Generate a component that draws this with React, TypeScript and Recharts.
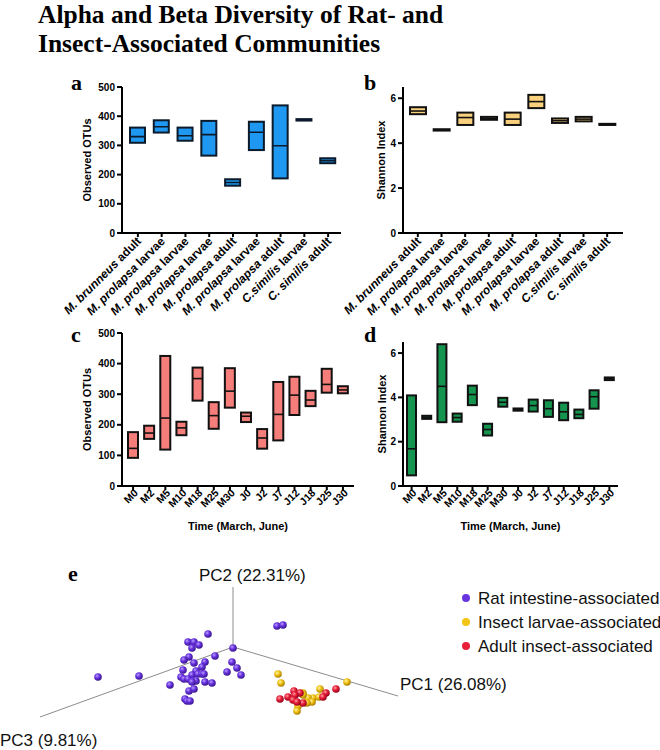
import React from 'react';
import {
  BarChart,
  Bar,
  XAxis,
  YAxis,
  Label,
  ScatterChart,
  Scatter,
  ReferenceLine,
} from 'recharts';

const SANS = '"Liberation Sans", Arial, Helvetica, sans-serif';
const SERIF = '"Liberation Serif", "Times New Roman", serif';

// panels a, b: host groups
const hostGroups = [
  'M. brunneus adult',
  'M. prolapsa larvae',
  'M. prolapsa larvae',
  'M. prolapsa larvae',
  'M. prolapsa adult',
  'M. prolapsa larvae',
  'M. prolapsa adult',
  'C.similis larvae',
  'C. similis adult',
];
const hostOtuMin = [309, 344, 316, 265, 162, 284, 187, 385, 239];
const hostOtuMax = [361, 386, 361, 384, 184, 381, 437, 390, 256];
const hostOtuMedian = [330, 364, 333, 337, 173, 345, 299, 387, 248];

const hostShannonMin = [5.29, 4.56, 4.81, 5.04, 4.81, 5.56, 4.9, 4.97, 4.81];
const hostShannonMax = [5.6, 4.62, 5.36, 5.17, 5.36, 6.15, 5.1, 5.17, 4.86];
const hostShannonMedian = [5.43, 4.59, 5.14, 5.1, 5.07, 5.85, 5.0, 5.07, 4.83];

// panels c, d: sampling time points
const timePoints = ['M0', 'M2', 'M5', 'M10', 'M18', 'M25', 'M30', 'J0', 'J2', 'J7', 'J12', 'J18', 'J25', 'J30'];
const timeOtuMin = [92, 154, 119, 166, 279, 187, 256, 209, 122, 149, 232, 261, 305, 303];
const timeOtuMax = [176, 197, 425, 210, 387, 274, 385, 240, 186, 340, 357, 311, 383, 326];
const timeOtuMedian = [123, 173, 222, 190, 351, 230, 310, 228, 157, 234, 297, 281, 332, 314];

const timeShannonMin = [0.48, 3.03, 2.88, 2.9, 3.65, 2.28, 3.58, 3.4, 3.36, 3.12, 2.97, 3.06, 3.49, 4.78];
const timeShannonMax = [4.09, 3.17, 6.4, 3.27, 4.53, 2.81, 3.98, 3.5, 3.9, 3.87, 3.76, 3.45, 4.32, 4.9];
const timeShannonMedian = [1.68, 3.1, 4.5, 3.09, 4.13, 2.55, 3.78, 3.45, 3.63, 3.49, 3.35, 3.23, 4.03, 4.84];

// panel e: PCoA points, projected (PC1/PC2/PC3 view)
const ratPoints = [
  [-2.5, 1.3], [-4.5, 0.5], [-3.9, 0.5], [-3.4, 0.2], [-4.1, -0.1], [0.0, -0.1],
  [-4.4, -1.0], [-4.9, -1.3], [-1.8, -0.9], [-3.9, -1.6], [-2.8, -1.5], [-0.1, -1.5],
  [-3.1, -2.0], [0.4, -2.1], [-5.0, -2.3], [-3.7, -2.4], [-0.6, -2.5], [0.8, -2.8],
  [-4.1, -2.8], [-3.5, -2.7], [-3.1, -2.7], [-2.9, -2.7], [-5.2, -3.0], [-4.9, -3.2],
  [-4.5, -3.2], [-4.0, -3.4], [-3.7, -3.4], [-4.1, -3.5], [-2.8, -3.5], [-2.1, -3.6],
  [-6.3, -3.8], [-4.4, -4.4], [-3.9, -4.2], [-4.8, -5.2], [-4.6, -5.4], [-4.3, -5.4],
  [-13.5, -3.0], [-9.4, -2.9], [4.4, 2.1], [5.0, 2.2],
];
const larvaePoints = [
  [4.5, -2.7], [4.8, -3.6], [11.4, -3.5], [8.7, -4.2], [7.0, -4.6], [8.0, -5.1],
  [7.5, -5.1], [8.6, -5.0], [7.9, -5.5], [7.4, -5.6], [6.5, -5.9], [6.4, -6.4], [7.0, -4.8],
];
const adultPoints = [
  [6.1, -4.4], [6.7, -4.6], [6.2, -4.8], [5.5, -5.0], [6.0, -5.3], [4.7, -5.2],
  [10.3, -4.2], [9.3, -4.6], [9.0, -5.0], [7.0, -5.6], [6.4, -5.5],
];
const pcAxisEnds = { pc1: [16.5, -4.9], pc2: [0, 6.0], pc3: [-19.3, -7.0] };

type BoxRow = { idx: number; lo: number; hi: number; med: number };

const toRows = (min: number[], max: number[], med: number[]): BoxRow[] =>
  min.map((lo, i) => ({ idx: i, lo, hi: max[i], med: med[i] }));

function boxShape(fill: string, stroke: string) {
  return (props: any) => {
    const { x, y, width, height, payload } = props;
    const top = Math.min(y, y + height);
    const h = Math.max(Math.abs(height), 1);
    const span = payload.hi - payload.lo;
    const my = span > 0 ? top + (h * (payload.hi - payload.med)) / span : top + h / 2;
    return (
      <g>
        <rect x={x} y={top} width={width} height={h} fill={fill} stroke={stroke} strokeWidth={2} />
        <line x1={x} x2={x + width} y1={my} y2={my} stroke={stroke} strokeWidth={1.6} />
      </g>
    );
  };
}

function speciesTick(props: any) {
  const { x, y, payload } = props;
  const text = hostGroups[payload.value] || '';
  const cut = text.lastIndexOf(' ');
  return (
    <g transform={`translate(${x + 1},${y}) rotate(-45)`}>
      <text textAnchor="end" dy="0.35em" fontSize={12} fontWeight="bold" fontFamily={SANS} fill="#000">
        <tspan fontStyle="italic">{text.slice(0, cut)}</tspan>
        {text.slice(cut)}
      </text>
    </g>
  );
}

function timeTick(props: any) {
  const { x, y, payload } = props;
  return (
    <g transform={`translate(${x + 3},${y - 1}) rotate(-45)`}>
      <text textAnchor="end" dy="0.35em" fontSize={10.5} fontWeight="bold" fontFamily={SANS} fill="#000">
        {timePoints[payload.value]}
      </text>
    </g>
  );
}

const yTitle = (text: string, x: number) => (props: any) => {
  const vb = props.viewBox || { y: 0, height: 0 };
  const cy = vb.y + vb.height / 2;
  return (
    <text
      x={x}
      y={cy}
      transform={`rotate(-90 ${x} ${cy})`}
      textAnchor="middle"
      dominantBaseline="central"
      fontSize={11}
      fontWeight="bold"
      fontFamily={SANS}
      fill="#000"
    >
      {text}
    </text>
  );
};

const xTitle = (text: string) => (props: any) => {
  const vb = props.viewBox || { x: 0, y: 0, width: 0 };
  return (
    <text
      x={vb.x + vb.width / 2}
      y={vb.y + 44}
      textAnchor="middle"
      fontSize={11}
      fontWeight="bold"
      fontFamily={SANS}
      fill="#000"
    >
      {text}
    </text>
  );
};

interface BoxPanelProps {
  left: number;
  top: number;
  width: number;
  height: number;
  margin: { top: number; right: number; bottom: number; left: number };
  yWidth: number;
  xHeight: number;
  rows: BoxRow[];
  fill: string;
  stroke: string;
  domain: [number, number];
  ticks: number[];
  yLabel: string;
  yLabelX: number;
  barSize: number;
  padding: { left: number; right: number };
  tick: (p: any) => React.ReactElement;
  xLabel?: string;
}

function BoxPanel(p: BoxPanelProps) {
  const axisStyle = { stroke: '#000', strokeWidth: 2 };
  return (
    <div style={{ position: 'absolute', left: p.left, top: p.top }}>
      <BarChart width={p.width} height={p.height} data={p.rows} margin={p.margin} barCategoryGap={0}>
        <XAxis
          dataKey="idx"
          type="category"
          height={p.xHeight}
          padding={p.padding}
          axisLine={axisStyle}
          tickLine={axisStyle}
          tickSize={4}
          tickMargin={2}
          interval={0}
          tick={p.tick}
        >
          {p.xLabel ? <Label content={xTitle(p.xLabel)} /> : null}
        </XAxis>
        <YAxis
          width={p.yWidth}
          domain={p.domain}
          ticks={p.ticks}
          allowDataOverflow
          axisLine={axisStyle}
          tickLine={axisStyle}
          tickSize={5}
          tickMargin={2}
          tick={{ fontSize: 10, fontWeight: 'bold', fill: '#000', fontFamily: SANS }}
        >
          <Label content={yTitle(p.yLabel, p.yLabelX)} />
        </YAxis>
        <Bar
          dataKey={(d: BoxRow) => [d.lo, d.hi]}
          barSize={p.barSize}
          shape={boxShape(p.fill, p.stroke)}
          isAnimationActive={false}
        />
      </BarChart>
    </div>
  );
}

const toXY = (pts: number[][]) => pts.map(([x, y]) => ({ x, y }));

const sphere = (id: string) => (props: any) => (
  <circle cx={props.cx} cy={props.cy} r={3.8} fill={`url(#${id})`} />
);

const legendItems = [
  { label: 'Rat intestine-associated', color: '#6a33e0' },
  { label: 'Insect larvae-associated', color: '#f2c414' },
  { label: 'Adult insect-associated', color: '#e8203a' },
];

export default function App() {
  return (
    <div style={{ position: 'absolute', left: 0, top: 0, width: 660, height: 750, background: '#fff' }}>
      <BoxPanel
        left={0}
        top={60}
        width={350}
        height={270}
        margin={{ top: 27, right: 9, bottom: 7, left: 82 }}
        yWidth={40}
        xHeight={90}
        rows={toRows(hostOtuMin, hostOtuMax, hostOtuMedian)}
        fill="#1e98f0"
        stroke="#0b1b2c"
        domain={[0, 500]}
        ticks={[0, 100, 200, 300, 400, 500]}
        yLabel="Observed OTUs"
        yLabelX={87}
        barSize={15}
        padding={{ left: 4, right: 1 }}
        tick={speciesTick}
      />
      <BoxPanel
        left={340}
        top={60}
        width={320}
        height={270}
        margin={{ top: 27, right: 37, bottom: 7, left: 33 }}
        yWidth={30}
        xHeight={90}
        rows={toRows(hostShannonMin, hostShannonMax, hostShannonMedian)}
        fill="#f8d07e"
        stroke="#111"
        domain={[0, 6.5]}
        ticks={[0, 2, 4, 6]}
        yLabel="Shannon Index"
        yLabelX={41}
        barSize={16}
        padding={{ left: 3, right: 4 }}
        tick={speciesTick}
      />
      <BoxPanel
        left={0}
        top={310}
        width={360}
        height={240}
        margin={{ top: 23, right: 6, bottom: 14, left: 82 }}
        yWidth={40}
        xHeight={50}
        rows={toRows(timeOtuMin, timeOtuMax, timeOtuMedian)}
        fill="#f57e7a"
        stroke="#111"
        domain={[0, 500]}
        ticks={[0, 100, 200, 300, 400, 500]}
        yLabel="Observed OTUs"
        yLabelX={87}
        barSize={10}
        padding={{ left: 3, right: 3 }}
        tick={timeTick}
        xLabel="Time (March, June)"
      />
      <BoxPanel
        left={340}
        top={310}
        width={320}
        height={240}
        margin={{ top: 32, right: 42, bottom: 14, left: 33 }}
        yWidth={30}
        xHeight={50}
        rows={toRows(timeShannonMin, timeShannonMax, timeShannonMedian)}
        fill="#15944f"
        stroke="#111"
        domain={[0, 6.5]}
        ticks={[0, 2, 4, 6]}
        yLabel="Shannon Index"
        yLabelX={42}
        barSize={9}
        padding={{ left: 1, right: 1 }}
        tick={timeTick}
        xLabel="Time (March, June)"
      />

      <div style={{ position: 'absolute', left: 0, top: 540 }}>
        <ScatterChart width={660} height={210} margin={{ top: 0, right: 0, bottom: 0, left: 0 }}>
          <defs>
            <radialGradient id="gRat" cx="38%" cy="35%" r="65%">
              <stop offset="0%" stopColor="#b9a2ff" />
              <stop offset="45%" stopColor="#6a33e0" />
              <stop offset="100%" stopColor="#3a1690" />
            </radialGradient>
            <radialGradient id="gLarvae" cx="38%" cy="35%" r="65%">
              <stop offset="0%" stopColor="#fff3b0" />
              <stop offset="45%" stopColor="#f2c414" />
              <stop offset="100%" stopColor="#a87e00" />
            </radialGradient>
            <radialGradient id="gAdult" cx="38%" cy="35%" r="65%">
              <stop offset="0%" stopColor="#ffa0a8" />
              <stop offset="45%" stopColor="#e8203a" />
              <stop offset="100%" stopColor="#98001a" />
            </radialGradient>
          </defs>
          <XAxis type="number" dataKey="x" domain={[-23.3, 42.7]} hide />
          <YAxis type="number" dataKey="y" domain={[-10.3, 10.7]} hide />
          <ReferenceLine segment={[{ x: 0, y: 0 }, { x: pcAxisEnds.pc1[0], y: pcAxisEnds.pc1[1] }]} stroke="#8c8c8c" strokeWidth={1} />
          <ReferenceLine segment={[{ x: 0, y: 0 }, { x: pcAxisEnds.pc2[0], y: pcAxisEnds.pc2[1] }]} stroke="#8c8c8c" strokeWidth={1} />
          <ReferenceLine segment={[{ x: 0, y: 0 }, { x: pcAxisEnds.pc3[0], y: pcAxisEnds.pc3[1] }]} stroke="#8c8c8c" strokeWidth={1} />
          <Scatter data={toXY(ratPoints)} shape={sphere('gRat')} isAnimationActive={false} />
          <Scatter data={toXY(larvaePoints)} shape={sphere('gLarvae')} isAnimationActive={false} />
          <Scatter data={toXY(adultPoints)} shape={sphere('gAdult')} isAnimationActive={false} />
        </ScatterChart>
      </div>

      <svg
        width={660}
        height={750}
        style={{ position: 'absolute', left: 0, top: 0, pointerEvents: 'none' }}
      >
        <text x={38} y={23} fontFamily={SERIF} fontWeight="bold" fontSize={25.5} fill="#000">
          Alpha and Beta Diversity of Rat- and
        </text>
        <text x={38} y={52} fontFamily={SERIF} fontWeight="bold" fontSize={25.5} fill="#000">
          Insect-Associated Communities
        </text>
        <text x={71} y={90} fontFamily={SERIF} fontWeight="bold" fontSize={22}>a</text>
        <text x={364} y={90} fontFamily={SERIF} fontWeight="bold" fontSize={22}>b</text>
        <text x={71} y={342} fontFamily={SERIF} fontWeight="bold" fontSize={22}>c</text>
        <text x={364} y={342} fontFamily={SERIF} fontWeight="bold" fontSize={22}>d</text>
        <text x={68} y={581} fontFamily={SERIF} fontWeight="bold" fontSize={22}>e</text>

        <text x={199} y={581} fontFamily={SANS} fontSize={17} fill="#111">PC2 (22.31%)</text>
        <text x={400} y={690} fontFamily={SANS} fontSize={17} fill="#111">PC1 (26.08%)</text>
        <text x={0} y={746} fontFamily={SANS} fontSize={17} fill="#111">PC3 (9.81%)</text>

        {legendItems.map((it, i) => (
          <g key={it.label}>
            <circle cx={466} cy={598 + i * 24} r={4} fill={it.color} />
            <text x={478} y={598 + i * 24} dominantBaseline="central" fontFamily={SANS} fontSize={17} fill="#111">
              {it.label}
            </text>
          </g>
        ))}
      </svg>
    </div>
  );
}
